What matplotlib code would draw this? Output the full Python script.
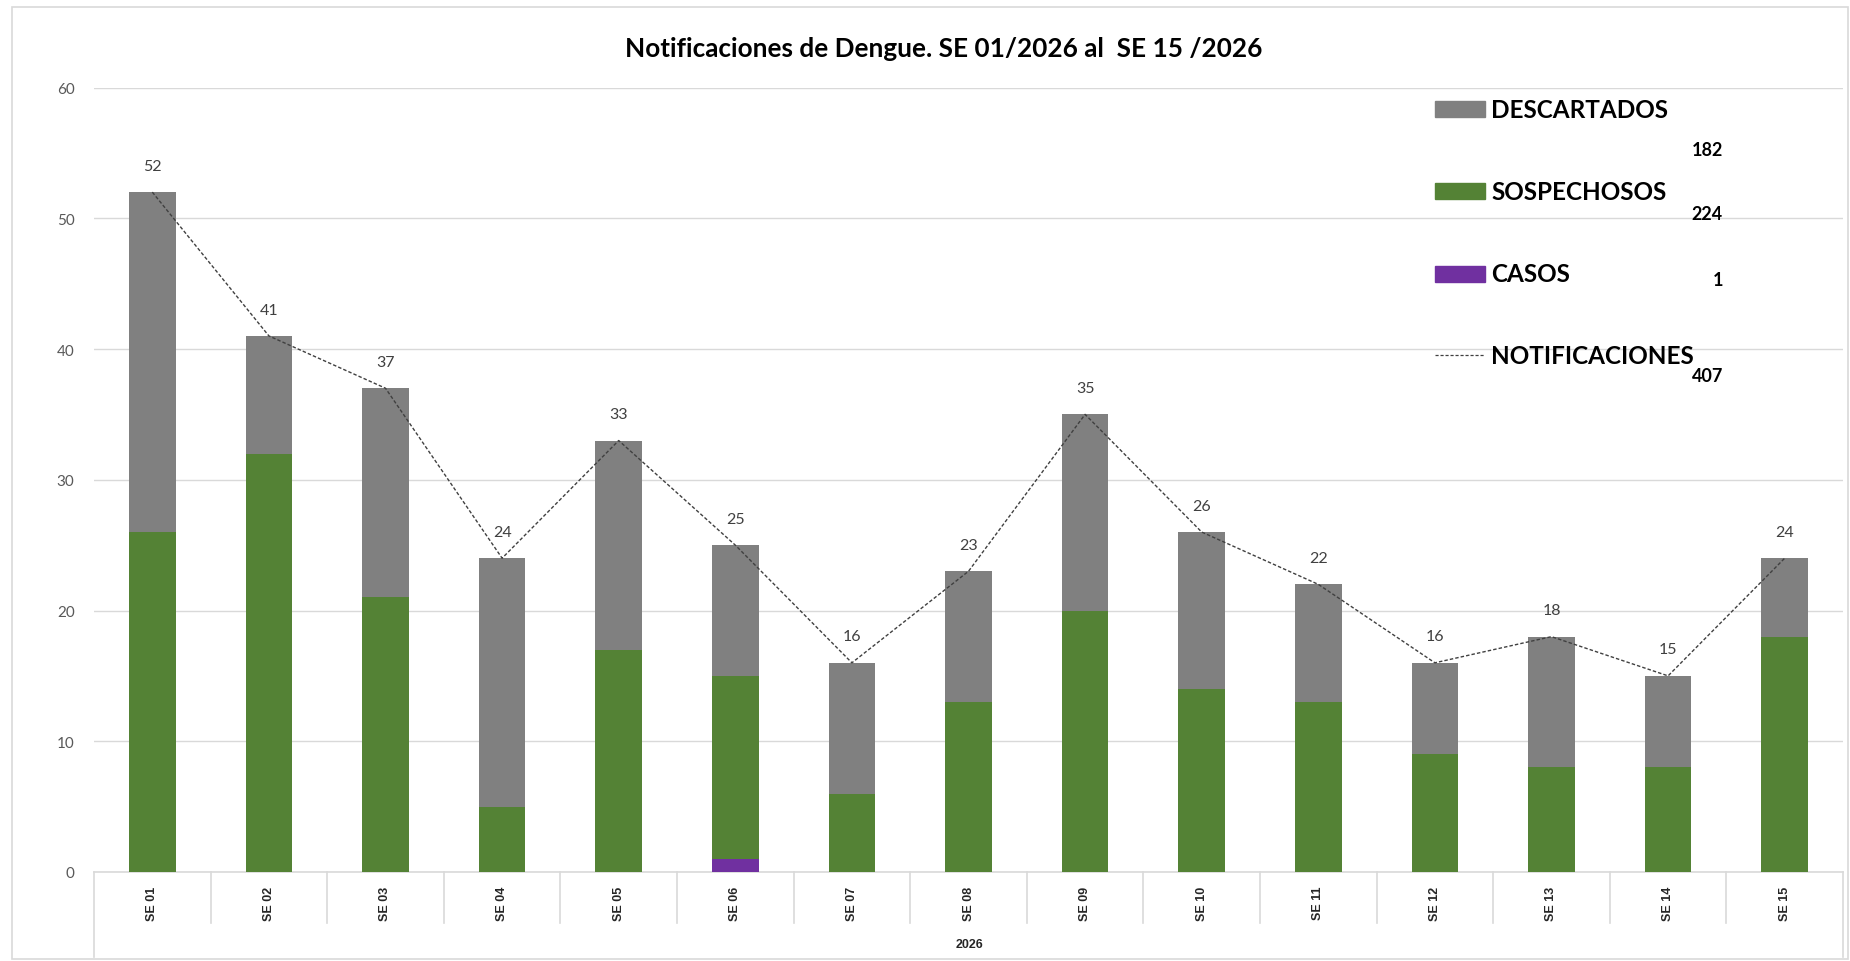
import matplotlib
matplotlib.use("Agg")
import matplotlib.pyplot as plt
from matplotlib.patches import Rectangle
from matplotlib.lines import Line2D
import matplotlib.transforms as mtransforms
import numpy as np

# ---- data ----
semanas = ["SE 01", "SE 02", "SE 03", "SE 04", "SE 05", "SE 06", "SE 07", "SE 08",
           "SE 09", "SE 10", "SE 11", "SE 12", "SE 13", "SE 14", "SE 15"]
casos = [0, 0, 0, 0, 0, 1, 0, 0, 0, 0, 0, 0, 0, 0, 0]
sospechosos = [26, 32, 21, 5, 17, 14, 6, 13, 20, 14, 13, 9, 8, 8, 18]
descartados = [26, 9, 16, 19, 16, 10, 10, 10, 15, 12, 9, 7, 10, 7, 6]
anio = "2026"
titulo = "Notificaciones de Dengue. SE 01/2026 al  SE 15 /2026"

casos_a = np.array(casos)
sosp_a = np.array(sospechosos)
desc_a = np.array(descartados)
notificaciones = casos_a + sosp_a + desc_a

W, H = 1850, 962
fig = plt.figure(figsize=(W / 100, H / 100), dpi=100)
fig.patch.set_facecolor("white")

def fx(px):
    return px / W

def fy(py):
    return 1 - py / H

ax_left, ax_right, ax_top, ax_bottom = 94, 1843, 88.5, 873
ax = fig.add_axes([fx(ax_left), fy(ax_bottom), fx(ax_right - ax_left), (ax_bottom - ax_top) / H])

x = np.arange(len(semanas))
bw = 0.4
c_gray, c_green, c_purple = "#808080", "#548235", "#7030A0"

ax.bar(x, casos_a, bw, color=c_purple, zorder=3)
ax.bar(x, sosp_a, bw, bottom=casos_a, color=c_green, zorder=3)
ax.bar(x, desc_a, bw, bottom=casos_a + sosp_a, color=c_gray, zorder=3)
ax.plot(x, notificaciones, color="#404040", lw=1.0, ls=(0, (2.5, 1.5)), zorder=4)

for xi, v in zip(x, notificaciones):
    ax.annotate(str(v), (xi, v), xytext=(0, 19), textcoords="offset points",
                ha="center", va="center", fontsize=11.5, color="#404040", family="Lato")

ax.set_xlim(-0.5, len(semanas) - 0.5)
ax.set_ylim(0, 60)
ax.set_yticks(np.arange(0, 61, 10))
ax.grid(axis="y", color="#d9d9d9", lw=1.0, zorder=0)
ax.set_axisbelow(True)
for s in ["top", "right", "left"]:
    ax.spines[s].set_visible(False)
ax.spines["bottom"].set_color("#d9d9d9")
ax.spines["bottom"].set_linewidth(1.2)
ax.tick_params(axis="y", length=0, pad=14, labelsize=11, labelcolor="#595959")
for lab in ax.get_yticklabels():
    lab.set_family("Lato")
ax.set_xticks(x)
ax.set_xticklabels(semanas, rotation=90, fontsize=9, fontweight="bold",
                   family="Liberation Sans", color="#262626")
ax.tick_params(axis="x", length=0, pad=10)

# category separators
trans = mtransforms.blended_transform_factory(ax.transData, ax.transAxes)
short = -(924 - ax_bottom) / (ax_bottom - ax_top)
long_ = -(958 - ax_bottom) / (ax_bottom - ax_top)
n = len(semanas)
for k in range(n + 1):
    yb = long_ if k in (0, n) else short
    ax.add_line(Line2D([k - 0.5, k - 0.5], [0, yb], transform=trans, color="#d9d9d9",
                       lw=1.2, clip_on=False))

fig.text(fx(969), fy(945), anio, ha="center", va="center", fontsize=9,
         fontweight="bold", family="Liberation Sans", color="#262626")

# title
fig.text(fx(800 * 1850 / 1568), fy(49), titulo, ha="center", va="center",
         fontsize=18.8, fontweight="bold", family="Lato", color="#000000")

# outer chart border
fig.add_artist(Rectangle((fx(12), fy(960)), fx(1848 - 12), (960 - 8) / H,
                         transform=fig.transFigure, fill=False, ec="#d9d9d9", lw=1.2))

# legend (manual)
entries = [
    ("DESCARTADOS", c_gray, "patch", desc_a.sum(), 110, 150),
    ("SOSPECHOSOS", c_green, "patch", sosp_a.sum(), 192, 215),
    ("CASOS", c_purple, "patch", casos_a.sum(), 275, 280),
    ("NOTIFICACIONES", "#404040", "line", notificaciones.sum(), 356, 376),
]
for label, col, kind, total, ty, vy in entries:
    if kind == "patch":
        fig.add_artist(Rectangle((fx(1435), fy(ty + 8)), fx(50), 16 / H,
                                 transform=fig.transFigure, color=col))
    else:
        fig.add_artist(Line2D([fx(1435), fx(1485)], [fy(ty), fy(ty)],
                              transform=fig.transFigure, color=col, lw=0.9,
                              ls=(0, (2.5, 1.5))))
    fig.text(fx(1491), fy(ty), label, ha="left", va="center", fontsize=17.5,
             fontweight="bold", family="Lato", color="#000000")
    fig.text(fx(1723), fy(vy), str(total), ha="right", va="center", fontsize=13,
             fontweight="bold", family="Lato", color="#000000")

fig.savefig("out.png", dpi=100, facecolor="white")
